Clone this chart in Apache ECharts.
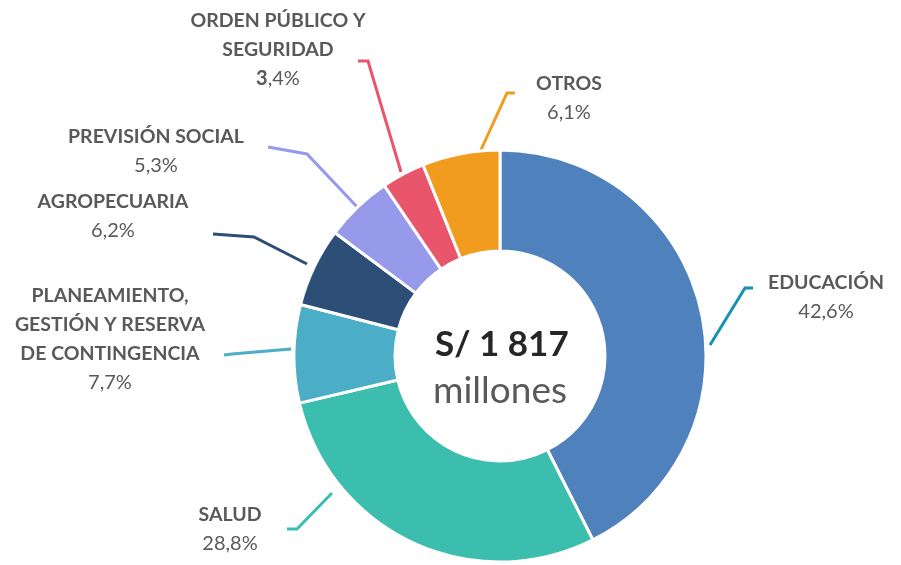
<!DOCTYPE html>
<html>
<head>
<meta charset="utf-8">
<script src="https://cdn.jsdelivr.net/npm/echarts@6/dist/echarts.min.js"></script>
<style>
  html, body { margin: 0; padding: 0; background: #fff; }
  #chart { width: 901px; height: 565px; }
</style>
</head>
<body>
<div id="chart"></div>
<script>
/* Gasto por función – dona */
const categories = [
  "EDUCACIÓN",
  "SALUD",
  "PLANEAMIENTO,\nGESTIÓN Y RESERVA\nDE CONTINGENCIA",
  "AGROPECUARIA",
  "PREVISIÓN SOCIAL",
  "ORDEN PÚBLICO Y\nSEGURIDAD",
  "OTROS"
];
const shares = [42.6, 28.8, 7.7, 6.2, 5.3, 3.4, 6.1];
const totalLabel = "S/ 1 817";
const unitLabel = "millones";

const sliceColors = ["#4f81bd", "#3cbeae", "#4badc6", "#2c4e77", "#9799ea", "#e9566b", "#f29c1f"];
const lineColors = ["#1591b4", "#3cbeae", "#4badc6", "#2c4e77", "#9799ea", "#e9566b", "#f29c1f"];

// posición de cada etiqueta (centro del bloque) y su línea guía
const labelPos = [
  [826, 297], [230, 529], [110, 339], [113, 216], [156, 151], [278, 50], [569, 98]
];
const guidePts = [
  [[710, 345], [745, 288], [753, 288]],
  [[332, 493], [297, 529], [287, 529]],
  [[291, 349], [232, 354], [224, 355]],
  [[307, 264], [254, 237], [213, 234]],
  [[360, 210], [307, 154], [268, 147]],
  [[401, 172], [368, 61], [358, 61]],
  [[480, 152], [507, 93], [515, 93]]
];

const chart = echarts.init(document.getElementById("chart"));

function fmtPct(v) {
  return v.toFixed(1).replace(".", ",") + "%";
}

chart.setOption({
  animation: false,
  textStyle: { fontFamily: "Lato, 'Open Sans', sans-serif" },
  graphic: [
    {
      type: "text", left: 435, top: 327,
      style: { text: totalLabel, fontSize: 35, fontWeight: "bold", fill: "#262626", fontFamily: "Lato" }
    },
    {
      type: "text", left: 433, top: 373,
      style: { text: unitLabel, fontSize: 37, fill: "#595959", fontFamily: "Lato" }
    }
  ],
  series: [
    {
      type: "pie",
      center: [500, 356],
      radius: [105, 206],
      startAngle: 90,
      clockwise: true,
      itemStyle: { borderColor: "#fff", borderWidth: 3 },
      label: {
        show: true,
        formatter: (p) => {
          const pct = fmtPct(p.value);
          if (p.dataIndex === 5) {
            const parts = pct.split(",");
            return "{n|" + p.name + "}\n{b|" + parts[0] + "}{v|," + parts[1] + "}";
          }
          return "{n|" + p.name + "}\n{v|" + pct + "}";
        },
        rich: {
          n: { fontSize: 19.5, fontWeight: "bold", color: "#595959", fontFamily: "Lato", lineHeight: 29, align: "center" },
          v: { fontSize: 20, color: "#595959", fontFamily: "Lato", lineHeight: 29, align: "center" },
          b: { fontSize: 20, fontWeight: "bold", color: "#595959", fontFamily: "Lato", lineHeight: 29 }
        }
      },
      labelLine: { show: true, lineStyle: { width: 3 } },
      labelLayout: (params) => {
        const i = params.dataIndex;
        return {
          x: labelPos[i][0],
          y: labelPos[i][1],
          align: "center",
          verticalAlign: "middle",
          labelLinePoints: guidePts[i]
        };
      },
      data: categories.map((name, i) => ({
        name: name,
        value: shares[i],
        itemStyle: { color: sliceColors[i] },
        labelLine: { lineStyle: { color: lineColors[i], width: 3 } }
      }))
    }
  ]
});
</script>
</body>
</html>
